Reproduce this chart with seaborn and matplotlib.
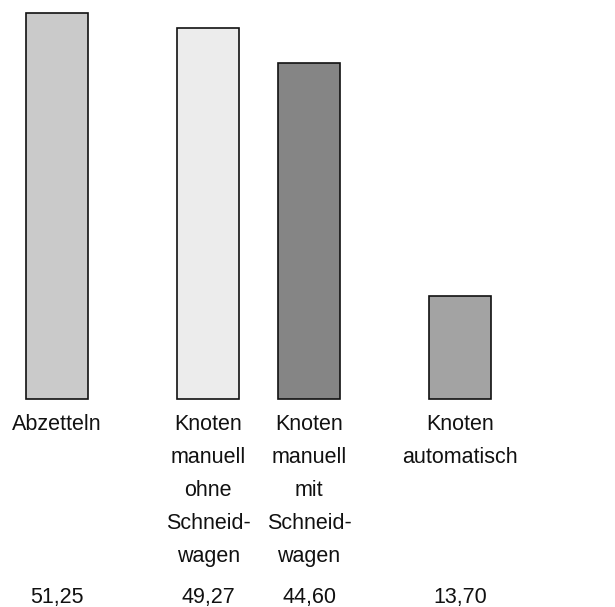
import matplotlib
matplotlib.use("Agg")
import matplotlib.pyplot as plt
import seaborn as sns
import pandas as pd

# data
categories = ["Abzetteln",
              "Knoten\nmanuell\nohne\nSchneid-\nwagen",
              "Knoten\nmanuell\nmit\nSchneid-\nwagen",
              "Knoten\nautomatisch"]
values = [51.25, 49.27, 44.60, 13.70]
positions = [0, 3, 5, 8]
colors = ["#cacaca", "#ececec", "#858585", "#a3a3a3"]

df = pd.DataFrame({"cat": categories, "val": values, "pos": positions})

plt.rcParams["font.family"] = ["Liberation Sans", "DejaVu Sans"]

fig = plt.figure(figsize=(6.15, 6.07), dpi=100)
ax = fig.add_axes([0, 0, 1, 1])

sns.barplot(data=df, x="pos", y="val", hue="cat", palette=colors,
            native_scale=True, dodge=False, width=0.615, saturation=1,
            edgecolor="#111111", linewidth=1.2, legend=False, ax=ax)

ax.set_xlim(-1.131, 11.07)
ax.set_ylim(-27.62, 52.99)
ax.set_axis_off()

for p, c, v in zip(positions, categories, values):
    ax.annotate(c, xy=(p, 0), xytext=(0, -10.8), textcoords="offset points",
                ha="center", va="top", fontsize=15.5, color="#111111",
                linespacing=1.75, annotation_clip=False)
    ax.annotate(f"{v:.2f}".replace(".", ","), xy=(p, 0), xytext=(0, -146.9),
                textcoords="offset points", ha="center", va="baseline",
                fontsize=15.5, color="#111111", annotation_clip=False)

fig.savefig("out.png", dpi=100)
